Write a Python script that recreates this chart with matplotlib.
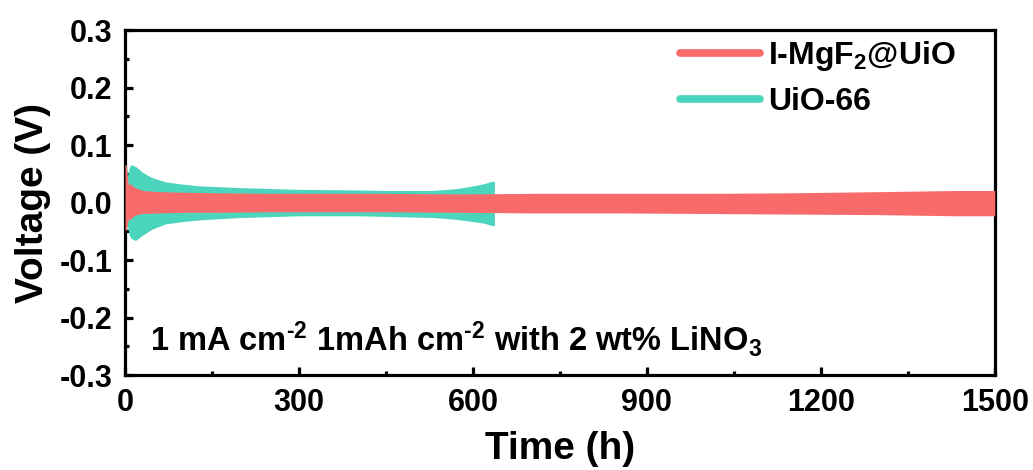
import matplotlib
matplotlib.use("Agg")
import matplotlib.pyplot as plt
from matplotlib.ticker import MultipleLocator

plt.rcParams["font.family"] = ["Liberation Sans", "DejaVu Sans"]
plt.rcParams["font.weight"] = "bold"
plt.rcParams["mathtext.default"] = "regular"

# Voltage envelope (upper / lower limits of the cycling trace), I-MgF2@UiO
t_mgf2 = [0, 2, 4, 6, 9, 14, 20, 31, 60, 100, 160, 250, 350, 450, 578, 700, 850, 1000, 1150, 1300, 1432, 1500]
up_mgf2 = [0.066, 0.066, 0.045, 0.030, 0.033, 0.028, 0.025, 0.021, 0.019, 0.018, 0.017, 0.016, 0.016, 0.016, 0.015, 0.016, 0.016, 0.016, 0.017, 0.019, 0.021, 0.021]
lo_mgf2 = [-0.048, -0.048, -0.038, -0.028, -0.030, -0.024, -0.021, -0.019, -0.018, -0.017, -0.017, -0.016, -0.016, -0.016, -0.017, -0.018, -0.018, -0.019, -0.020, -0.021, -0.023, -0.023]

# Voltage envelope, UiO-66
t_uio = [0, 2, 4, 7, 10, 18, 30, 45, 70, 100, 130, 200, 300, 400, 450, 530, 570, 600, 620, 632, 637]
up_uio = [0.082, 0.078, 0.045, 0.060, 0.066, 0.063, 0.053, 0.044, 0.036, 0.032, 0.029, 0.026, 0.023, 0.022, 0.021, 0.021, 0.024, 0.029, 0.033, 0.037, 0.037]
lo_uio = [-0.047, -0.047, -0.040, -0.055, -0.062, -0.066, -0.057, -0.047, -0.037, -0.033, -0.030, -0.026, -0.023, -0.023, -0.024, -0.026, -0.029, -0.033, -0.036, -0.040, -0.040]

labels = ["I-MgF$_2$@UiO", "UiO-66"]
c_mgf2 = "#F96B6B"
c_uio = "#4BD5BD"

fig = plt.figure(figsize=(10.33, 4.70), dpi=100)
ax = fig.add_axes([0.121, 0.202, 0.842, 0.734])

ax.fill_between(t_uio, lo_uio, up_uio, color=c_uio, lw=0, zorder=2)
ax.fill_between(t_mgf2, lo_mgf2, up_mgf2, color=c_mgf2, lw=0, zorder=3)

# legend proxies
h1, = ax.plot([], [], color=c_mgf2, lw=5.5, solid_capstyle="round")
h2, = ax.plot([], [], color=c_uio, lw=5.5, solid_capstyle="round")
ax.legend([h1, h2], labels, loc="upper right", frameon=False,
          handlelength=2.5, handletextpad=0.25, labelspacing=0.42,
          borderaxespad=0.0, bbox_to_anchor=(0.97, 1.01),
          prop={"weight": "bold", "size": 23})

ax.set_xlim(0, 1500)
ax.set_ylim(-0.3, 0.3)
ax.xaxis.set_major_locator(MultipleLocator(300))
ax.xaxis.set_minor_locator(MultipleLocator(150))
ax.yaxis.set_minor_locator(MultipleLocator(0.05))
ax.set_yticks([-0.3, -0.2, -0.1, 0.0, 0.1, 0.2, 0.3])
ax.set_yticklabels(["-0.3", "-0.2", "-0.1", "0.0", "0.1", "0.2", "0.3"])

for s in ax.spines.values():
    s.set_linewidth(2.3)
ax.tick_params(which="both", direction="in", top=False, right=False,
               labelsize=22, width=2.3, pad=9)
ax.tick_params(which="major", length=6)
ax.tick_params(which="minor", length=3)
for lab in ax.get_xticklabels() + ax.get_yticklabels():
    lab.set_fontweight("bold")

ax.set_xlabel("Time (h)", fontsize=28, fontweight="bold", labelpad=10)
ax.set_ylabel("Voltage (V)", fontsize=28, fontweight="bold", labelpad=6)

ax.text(0.029, 0.072,
        "1 mA cm$^{\u20102}$ 1mAh cm$^{\u20102}$ with 2 wt% LiNO$_3$",
        transform=ax.transAxes, fontsize=23.5, fontweight="bold",
        ha="left", va="baseline")

fig.savefig("out.png", dpi=100)
